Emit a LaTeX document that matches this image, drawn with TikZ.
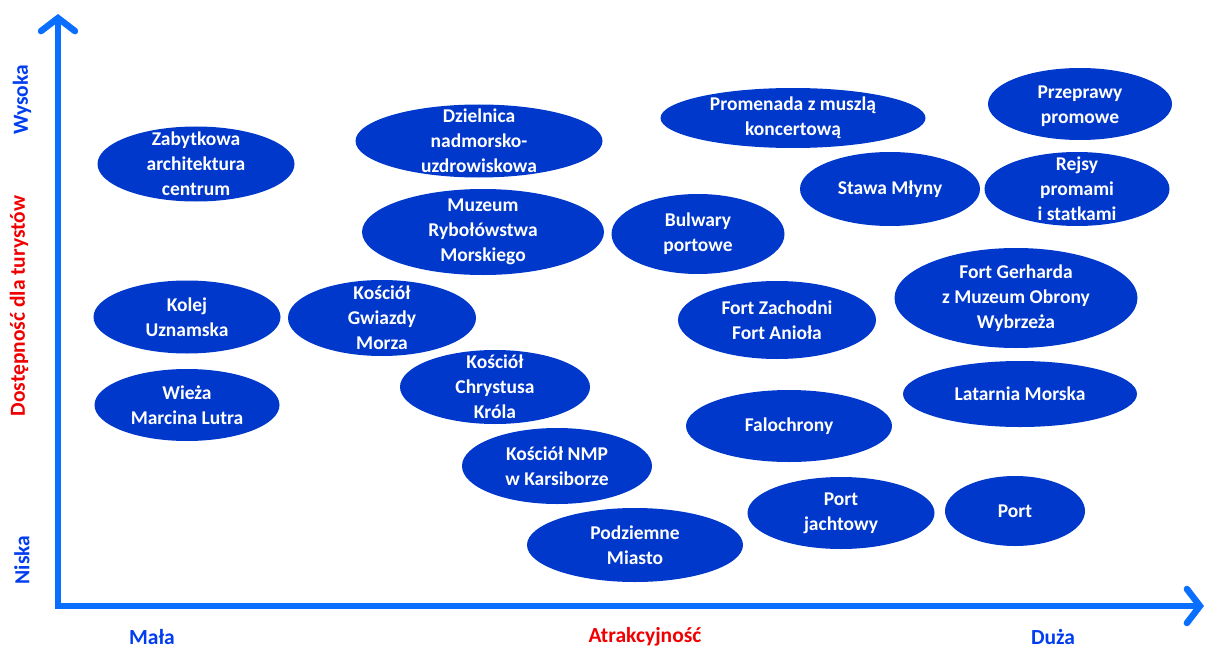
\documentclass[tikz,border=0pt]{standalone}
\usepackage{fontspec}
\setmainfont{Carlito}
\usepackage{xcolor}
\usepackage{tikz}
\usetikzlibrary{arrows.meta, shapes.geometric}

\definecolor{spotblue}{RGB}{0,56,204}
\definecolor{axisblue}{RGB}{10,110,255}
\definecolor{labelblue}{RGB}{0,60,240}
\definecolor{labelred}{RGB}{240,0,0}

\tikzset{
  spot/.style 2 args={ellipse, fill=spotblue, draw=none, inner sep=0pt,
    minimum width=#1pt, minimum height=#2pt},
  spottext/.style={text=white, align=center, inner sep=0pt,
    font=\fontsize{19.5}{25}\selectfont\bfseries},
  axislabel/.style={inner sep=0pt, font=\fontsize{21.5}{24}\selectfont\bfseries},
  axis/.style={line width=6.5pt, color=axisblue, line join=miter,
    {Straight Barb[length=13pt, width=34pt, line cap=round]}-{Straight Barb[length=13pt, width=34pt, line cap=round]}}
}

\begin{document}
\begin{tikzpicture}[x=1pt, y=-1pt]
	\useasboundingbox (0,0) rectangle (1209,650);

	% Axes
	\coordinate (ytop) at (58,14);
	\coordinate (origin) at (58,606);
	\coordinate (xend) at (1204,606);
	\draw[axis] (ytop) -- (origin) -- (xend);

	% Axis labels
	\node[axislabel, text=labelblue, rotate=90] (wysoka) at (22,100) {Wysoka};
	\node[axislabel, text=labelred, rotate=90] (dostep) at (19,306) {Dostępność dla turystów};
	\node[axislabel, text=labelblue, rotate=90] (niska) at (22,560) {Niska};
	\node[axislabel, text=labelblue] (mala) at (152,637) {Mała};
	\node[axislabel, text=labelred] (atrakcja) at (645,637) {Atrakcyjność};
	\node[axislabel, text=labelblue] (duza) at (1053,637) {Duża};

	% Top row
	\node[spot={197}{75}] (zabytkowa) at (196,164) {};
	\node[spottext] at (zabytkowa) {Zabytkowa\\architektura\\centrum};
	\node[spot={247}{73}] (dzielnica) at (479,141) {};
	\node[spottext] at (dzielnica) {Dzielnica\\nadmorsko-\\uzdrowiskowa};
	\node[spot={265}{60}] (promenada) at (793,118) {};
	\node[spottext] at (promenada) {Promenada z muszlą\\koncertową};
	\node[spot={184}{72}] (przeprawy) at (1080,104) {};
	\node[spottext] at ([yshift=-2pt]przeprawy) {Przeprawy\\promowe};
	\node[spot={180}{74}] (stawa) at (890,189) {};
	\node[spottext] at (stawa) {Stawa Młyny};
	\node[spot={185}{74}] (rejsy) at (1077,189) {};
	\node[spottext] at (rejsy) {Rejsy\\promami\\i statkami};

	% Middle rows
	\node[spot={242}{86}] (muzeum) at (483,232) {};
	\node[spottext] at (muzeum) {Muzeum\\Rybołówstwa\\Morskiego};
	\node[spot={173}{80}] (bulwary) at (698,234) {};
	\node[spottext] at (bulwary) {Bulwary\\portowe};
	\node[spot={243}{100}] (gerharda) at (1016,298) {};
	\node[spottext] at (gerharda) {Fort Gerharda\\z Muzeum Obrony\\Wybrzeża};
	\node[spot={198}{78}] (zachodni) at (777,320) {};
	\node[spottext] at (zachodni) {Fort Zachodni\\Fort Anioła};
	\node[spot={187}{73}] (kolej) at (187,317) {};
	\node[spottext] at (kolej) {Kolej\\Uznamska};
	\node[spot={188}{76}] (gwiazdy) at (382,318) {};
	\node[spottext] at (gwiazdy) {Kościół\\Gwiazdy\\Morza};
	\node[spot={185}{72}] (wieza) at (187,405) {};
	\node[spottext] at (wieza) {Wieża\\Marcina Lutra};
	\node[spot={190}{74}] (chrystusa) at (495,387) {};
	\node[spottext] at (chrystusa) {Kościół\\Chrystusa\\Króla};
	\node[spot={234}{66}] (latarnia) at (1020,394) {};
	\node[spottext] at (latarnia) {Latarnia Morska};
	\node[spot={206}{72}] (falochrony) at (789,426) {};
	\node[spottext] at (falochrony) {Falochrony};

	% Bottom rows
	\node[spot={190}{76}] (nmp) at (557,466) {};
	\node[spottext] at (nmp) {Kościół NMP\\w Karsiborze};
	\node[spot={187}{72}] (jachtowy) at (841,513) {};
	\node[spottext] at (jachtowy) {Port\\jachtowy};
	\node[spot={140}{70}] (port) at (1015,511) {};
	\node[spottext] at (port) {Port};
	\node[spot={216}{74}] (podziemne) at (635,545) {};
	\node[spottext] at (podziemne) {Podziemne\\Miasto};
\end{tikzpicture}
\end{document}
